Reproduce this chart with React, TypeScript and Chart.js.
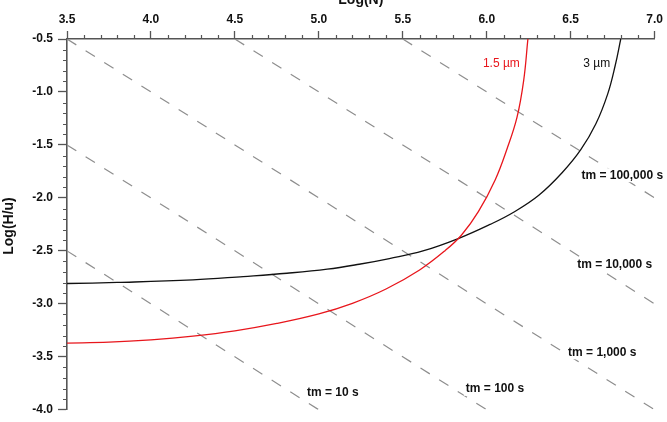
import React, { useEffect, useRef } from "react";
import { Chart, registerables } from "chart.js";

Chart.register(...registerables);

// ---- Data ----
const xMin = 3.5;
const xMax = 7.0;
const yMin = -4.0;
const yMax = -0.5;

const red15X = [3.5, 3.75, 4.0, 4.25, 4.5, 4.75, 5.0, 5.2, 5.4, 5.6, 5.75, 5.85, 5.95, 6.05, 6.12, 6.18, 6.22, 6.245];
const red15Y = [-3.37, -3.362, -3.34, -3.305, -3.255, -3.185, -3.095, -2.995, -2.86, -2.68, -2.5, -2.35, -2.13, -1.83, -1.54, -1.24, -0.89, -0.5];

const black3X = [3.5, 3.8, 4.25, 4.55, 4.81, 5.05, 5.24, 5.42, 5.62, 5.83, 6.02, 6.16, 6.31, 6.45, 6.56, 6.65, 6.72, 6.765, 6.798];
const black3Y = [-2.808, -2.798, -2.774, -2.742, -2.711, -2.673, -2.626, -2.572, -2.501, -2.384, -2.25, -2.135, -1.975, -1.76, -1.545, -1.3, -1.02, -0.75, -0.5];

const tmLabels = ["tm = 10 s", "tm = 100 s", "tm = 1,000 s", "tm = 10,000 s", "tm = 100,000 s"];
const tmStartX = [3.5, 3.5, 3.5, 4.5, 5.5];
const tmStartY = [-2.5, -1.5, -0.5, -0.5, -0.5];
const tmEndX = [5.0, 6.0, 7.0, 7.0, 7.0];
const tmEndY = [-4.0, -4.0, -4.0, -3.0, -2.0];
const tmLabelX = [5.083, 6.049, 6.688, 6.762, 6.807];
const tmLabelY = [-3.842, -3.802, -3.457, -2.633, -1.786];

const curveLabels = ["1.5 µm", "3 µm"];
const curveLabelX = [6.087, 6.655];
const curveLabelY = [-0.729, -0.729];
const curveColors = ["#e8161c", "#111111"];

const xTitle = "Log(N)";
const yTitle = "Log(H/u)";

const FONT = "Arial, 'Liberation Sans', Helvetica, sans-serif";
const AXIS_COLOR = "#555555";

const overlayPlugin = {
  id: "overlay",
  afterDraw(chart: any) {
    const { ctx, chartArea, scales } = chart;
    const xs = scales.x;
    const ys = scales.y;
    ctx.save();
    // minor ticks
    ctx.strokeStyle = AXIS_COLOR;
    ctx.lineWidth = 1.2;
    ctx.beginPath();
    for (let i = 0; i <= 35; i++) {
      if (i % 5 === 0) continue;
      const v = xMin + i * 0.1;
      const px = Math.round(xs.getPixelForValue(v)) + 0.5;
      ctx.moveTo(px, chartArea.top);
      ctx.lineTo(px, chartArea.top - 4);
    }
    for (let i = 0; i <= 35; i++) {
      if (i % 5 === 0) continue;
      const v = yMin + i * 0.1;
      const py = Math.round(ys.getPixelForValue(v)) + 0.5;
      ctx.moveTo(chartArea.left, py);
      ctx.lineTo(chartArea.left - 4, py);
    }
    ctx.stroke();

    // axis titles
    ctx.fillStyle = "#111";
    ctx.font = `bold 14px ${FONT}`;
    ctx.textAlign = "center";
    ctx.textBaseline = "alphabetic";
    ctx.fillText(xTitle, (chartArea.left + chartArea.right) / 2, 4);
    ctx.save();
    ctx.translate(13, 226);
    ctx.rotate(-Math.PI / 2);
    ctx.fillText(yTitle, 0, 0);
    ctx.restore();

    // tm labels
    ctx.font = `bold 12px ${FONT}`;
    ctx.textBaseline = "middle";
    for (let i = 0; i < tmLabels.length; i++) {
      const px = xs.getPixelForValue(tmLabelX[i]);
      const py = ys.getPixelForValue(tmLabelY[i]);
      const w = ctx.measureText(tmLabels[i]).width;
      ctx.fillStyle = "#ffffff";
      ctx.fillRect(px - w / 2 - 2, py - 7, w + 4, 14);
      ctx.fillStyle = "#111";
      ctx.fillText(tmLabels[i], px, py);
    }
    // curve labels
    ctx.font = `12px ${FONT}`;
    for (let i = 0; i < curveLabels.length; i++) {
      const px = xs.getPixelForValue(curveLabelX[i]);
      const py = ys.getPixelForValue(curveLabelY[i]);
      ctx.fillStyle = curveColors[i];
      ctx.fillText(curveLabels[i], px, py);
    }
    ctx.restore();
  },
};

export default function App() {
  const ref = useRef<HTMLCanvasElement | null>(null);

  useEffect(() => {
    const canvas = ref.current;
    if (!canvas) return;
    const datasets: any[] = [
      {
        label: curveLabels[0],
        data: red15X.map((x, i) => ({ x, y: red15Y[i] })),
        borderColor: curveColors[0],
        borderWidth: 1.3,
        showLine: true,
        pointRadius: 0,
        tension: 0.4,
      },
      {
        label: curveLabels[1],
        data: black3X.map((x, i) => ({ x, y: black3Y[i] })),
        borderColor: curveColors[1],
        borderWidth: 1.3,
        showLine: true,
        pointRadius: 0,
        tension: 0.4,
      },
      ...tmLabels.map((lab, i) => ({
        label: lab,
        data: [
          { x: tmStartX[i], y: tmStartY[i] },
          { x: tmEndX[i], y: tmEndY[i] },
        ],
        borderColor: "#8e8e8e",
        borderWidth: 1.2,
        borderDash: [11, 11],
        showLine: true,
        pointRadius: 0,
      })),
    ];

    const chart = new Chart(canvas, {
      type: "scatter",
      data: { datasets },
      options: {
        responsive: false,
        animation: false,
        devicePixelRatio: 1,
        layout: { padding: { left: 0, top: 0, right: 12, bottom: 11 } },
        plugins: { legend: { display: false }, tooltip: { enabled: false } },
        scales: {
          x: {
            type: "linear",
            position: "top",
            min: xMin,
            max: xMax,
            afterFit: (s: any) => {
              s.height = 39;
            },
            ticks: {
              stepSize: 0.5,
              padding: 4,
              color: "#111",
              font: { family: FONT, size: 12, weight: "bold" },
              callback: (v: any) => Number(v).toFixed(1),
            },
            grid: {
              drawOnChartArea: false,
              drawTicks: true,
              tickLength: 8,
              tickColor: AXIS_COLOR,
              tickWidth: 1.3,
            },
            border: { color: AXIS_COLOR, width: 1.6 },
          },
          y: {
            type: "linear",
            position: "left",
            min: yMin,
            max: yMax,
            afterFit: (s: any) => {
              s.width = 67;
            },
            ticks: {
              stepSize: 0.5,
              padding: 5,
              color: "#111",
              font: { family: FONT, size: 12, weight: "bold" },
              callback: (v: any) => Number(v).toFixed(1),
            },
            grid: {
              drawOnChartArea: false,
              drawTicks: true,
              tickLength: 9,
              tickColor: AXIS_COLOR,
              tickWidth: 1.3,
            },
            border: { color: AXIS_COLOR, width: 1.6 },
          },
        },
      },
      plugins: [overlayPlugin],
    });
    return () => chart.destroy();
  }, []);

  return (
    <div style={{ position: "fixed", left: 0, top: 0, width: 667, height: 422, background: "#fff" }}>
      <canvas ref={ref} width={667} height={422} style={{ display: "block" }} />
    </div>
  );
}
